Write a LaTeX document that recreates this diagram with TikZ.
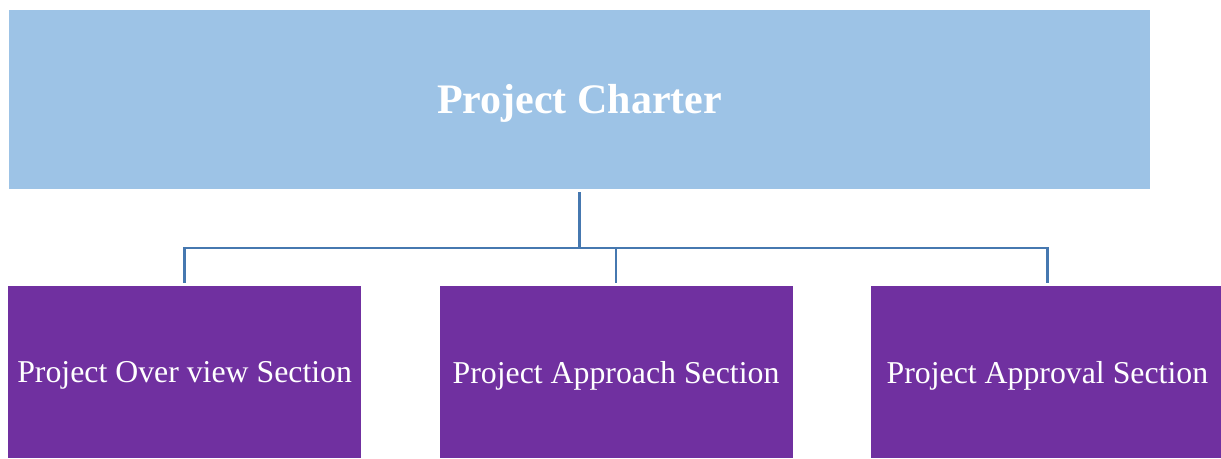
\documentclass[tikz,border=0pt]{standalone}
\usepackage{fontspec}
\setmainfont{Liberation Serif}
\usepackage{tikz}
\usetikzlibrary{positioning}
\definecolor{charterblue}{HTML}{9DC3E6}
\definecolor{sectionpurple}{HTML}{7030A0}
\definecolor{linkblue}{HTML}{4678B0}
\tikzset{charterbox/.style={
    % The shape:
    rectangle,
    % The size:
    minimum width=1141pt,
    minimum height=179pt,
    % The filling:
    fill=charterblue,
    % Font
    text=white,
    text depth=0.1em,
    font=\fontsize{42}{50}\selectfont\bfseries
    },
    sectionbox/.style={
    rectangle,
    minimum width=353pt,
    minimum height=172pt,
    fill=sectionpurple,
    text=white,
    text depth=0pt,
    font=\fontsize{31.8}{38}\selectfont,
    },
    link/.style={
    draw=linkblue,
    line width=2.4pt,
    shorten <=3pt,
    shorten >=3pt,
    },
}

\begin{document}
\begin{tikzpicture}[x=1pt,y=-1pt,node distance = 97pt and 78pt]
    \useasboundingbox (0,0) rectangle (1221,458);
    \node (charter)  [charterbox] at (579.5,99.5)             {Project Charter};
    \node (approach) [sectionbox,below=of charter,xshift=36.5pt] {Project Approach Section};
    \node (overview) [sectionbox,left=of approach]             {Project Over view Section};
    \node (approval) [sectionbox,right=of approach]            {Project Approval Section};

    \draw[link] (charter.south) -- ++(0,58.5) -| (overview.north);
    \draw[link] (charter.south) -- ++(0,58.5) -| (approach.north);
    \draw[link] (charter.south) -- ++(0,58.5) -| (approval.north);
\end{tikzpicture}
\end{document}
